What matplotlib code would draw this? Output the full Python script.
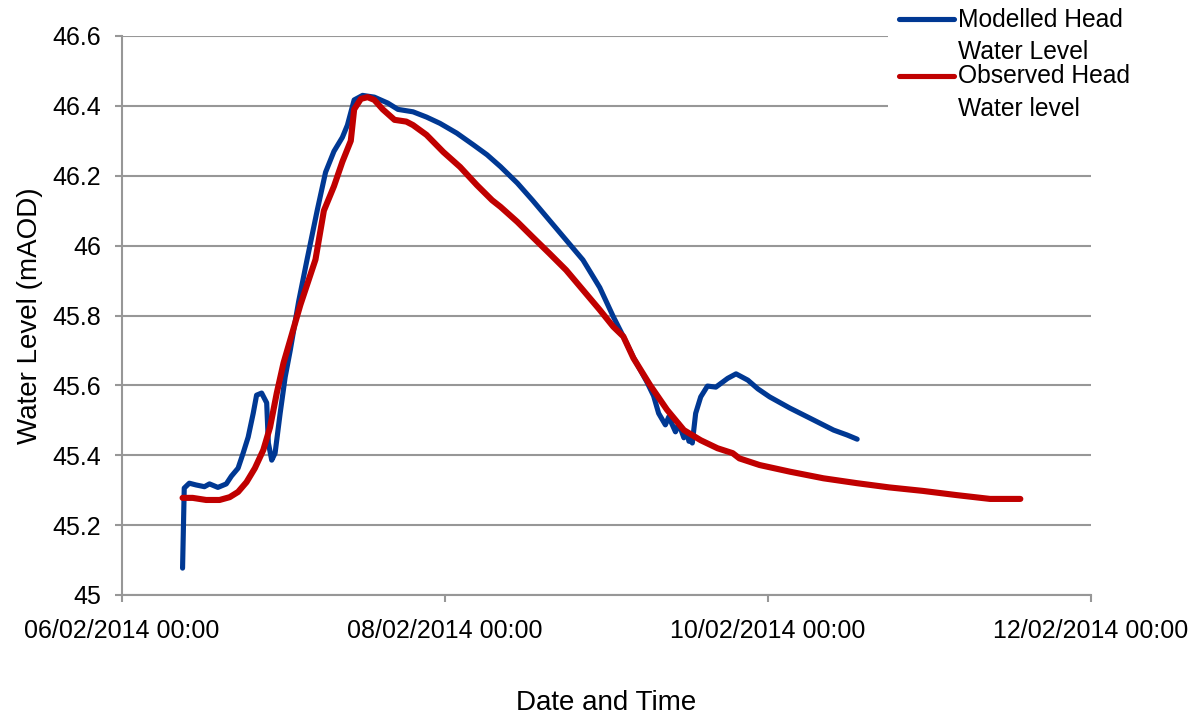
import matplotlib
matplotlib.use("Agg")
import matplotlib.pyplot as plt
import matplotlib.dates as mdates
from matplotlib.lines import Line2D
from matplotlib.patches import Rectangle
import pandas as pd

# Modelled head water level (mAOD)
modelled_times = [
    "2014-02-06 09:00", "2014-02-06 09:15", "2014-02-06 10:00", "2014-02-06 11:00",
    "2014-02-06 12:15", "2014-02-06 13:00", "2014-02-06 14:15", "2014-02-06 15:30",
    "2014-02-06 16:15", "2014-02-06 17:15", "2014-02-06 18:00", "2014-02-06 18:45",
    "2014-02-06 19:30", "2014-02-06 20:00", "2014-02-06 20:45", "2014-02-06 21:30",
    "2014-02-06 21:45", "2014-02-06 22:15", "2014-02-06 22:45", "2014-02-06 23:30",
    "2014-02-07 00:15", "2014-02-07 01:00", "2014-02-07 02:15", "2014-02-07 03:30",
    "2014-02-07 05:00", "2014-02-07 06:15", "2014-02-07 07:30", "2014-02-07 08:45",
    "2014-02-07 09:30", "2014-02-07 10:30", "2014-02-07 11:45", "2014-02-07 13:30",
    "2014-02-07 15:30", "2014-02-07 17:00", "2014-02-07 19:15", "2014-02-07 21:15",
    "2014-02-07 23:15", "2014-02-08 01:45", "2014-02-08 04:15", "2014-02-08 06:15",
    "2014-02-08 08:15", "2014-02-08 10:45", "2014-02-08 13:00", "2014-02-08 15:30",
    "2014-02-08 18:00", "2014-02-08 20:30", "2014-02-08 23:00", "2014-02-09 01:00",
    "2014-02-09 02:30", "2014-02-09 04:00", "2014-02-09 06:00", "2014-02-09 07:00",
    "2014-02-09 07:45", "2014-02-09 08:45", "2014-02-09 09:15", "2014-02-09 10:15",
    "2014-02-09 10:45", "2014-02-09 11:30", "2014-02-09 12:00", "2014-02-09 12:15",
    "2014-02-09 12:30", "2014-02-09 12:45", "2014-02-09 13:15", "2014-02-09 14:00",
    "2014-02-09 15:00", "2014-02-09 16:15", "2014-02-09 18:00", "2014-02-09 19:15",
    "2014-02-09 21:00", "2014-02-09 22:30", "2014-02-10 00:15", "2014-02-10 03:15",
    "2014-02-10 06:15", "2014-02-10 09:45", "2014-02-10 11:45", "2014-02-10 13:15",
]
modelled_level = [
    45.077, 45.306, 45.320, 45.315,
    45.310, 45.318, 45.308, 45.318,
    45.340, 45.363, 45.406, 45.452,
    45.520, 45.572, 45.578, 45.550,
    45.435, 45.386, 45.406, 45.520,
    45.624, 45.700, 45.840, 45.960,
    46.100, 46.210, 46.270, 46.310,
    46.345, 46.417, 46.430, 46.425,
    46.408, 46.390, 46.383, 46.368,
    46.350, 46.322, 46.288, 46.260,
    46.226, 46.179, 46.130, 46.073,
    46.016, 45.959, 45.880, 45.797,
    45.740, 45.680, 45.610, 45.570,
    45.520, 45.487, 45.510, 45.467,
    45.490, 45.450, 45.465, 45.440,
    45.450, 45.435, 45.520, 45.567,
    45.598, 45.595, 45.620, 45.633,
    45.615, 45.590, 45.567, 45.535,
    45.506, 45.472, 45.458, 45.446,
]

# Observed head water level (mAOD)
observed_times = [
    "2014-02-06 09:00", "2014-02-06 10:30", "2014-02-06 12:30", "2014-02-06 14:30",
    "2014-02-06 16:00", "2014-02-06 17:15", "2014-02-06 18:30", "2014-02-06 19:45",
    "2014-02-06 21:00", "2014-02-06 22:00", "2014-02-06 23:00", "2014-02-07 00:00",
    "2014-02-07 01:00", "2014-02-07 02:30", "2014-02-07 04:45", "2014-02-07 06:00",
    "2014-02-07 07:30", "2014-02-07 08:45", "2014-02-07 10:00", "2014-02-07 10:30",
    "2014-02-07 11:30", "2014-02-07 12:30", "2014-02-07 13:30", "2014-02-07 14:45",
    "2014-02-07 16:30", "2014-02-07 18:15", "2014-02-07 19:15", "2014-02-07 21:15",
    "2014-02-07 23:45", "2014-02-08 02:15", "2014-02-08 04:45", "2014-02-08 07:00",
    "2014-02-08 08:15", "2014-02-08 10:45", "2014-02-08 13:00", "2014-02-08 15:30",
    "2014-02-08 18:00", "2014-02-08 20:30", "2014-02-08 23:00", "2014-02-09 01:00",
    "2014-02-09 02:30", "2014-02-09 04:00", "2014-02-09 06:30", "2014-02-09 09:00",
    "2014-02-09 11:30", "2014-02-09 14:00", "2014-02-09 16:30", "2014-02-09 18:45",
    "2014-02-09 19:45", "2014-02-09 22:45", "2014-02-10 03:15", "2014-02-10 08:15",
    "2014-02-10 13:15", "2014-02-10 18:00", "2014-02-10 23:00", "2014-02-11 04:00",
    "2014-02-11 09:00", "2014-02-11 13:30",
]
observed_level = [
    45.278, 45.278, 45.272, 45.272,
    45.280, 45.295, 45.323, 45.363,
    45.415, 45.480, 45.578, 45.664,
    45.730, 45.830, 45.960, 46.100,
    46.170, 46.240, 46.300, 46.390,
    46.420, 46.425, 46.417, 46.390,
    46.360, 46.355, 46.345, 46.317,
    46.268, 46.225, 46.173, 46.130,
    46.111, 46.068, 46.025, 45.978,
    45.930, 45.873, 45.816, 45.768,
    45.740, 45.678, 45.600, 45.530,
    45.472, 45.443, 45.420, 45.406,
    45.391, 45.372, 45.353, 45.334,
    45.320, 45.308, 45.298, 45.286,
    45.275, 45.275,
]

x_ticks = ["2014-02-06", "2014-02-08", "2014-02-10", "2014-02-12"]
y_ticks = [45.0, 45.2, 45.4, 45.6, 45.8, 46.0, 46.2, 46.4, 46.6]
y_tick_labels = ["45", "45.2", "45.4", "45.6", "45.8", "46", "46.2", "46.4", "46.6"]

series_labels = [["Modelled Head", "Water Level"], ["Observed Head", "Water level"]]
series_colors = ["#003893", "#C00000"]

plt.rcParams["font.family"] = ["Liberation Sans", "DejaVu Sans"]

W, H = 1202, 717
fig = plt.figure(figsize=(W / 100, H / 100), dpi=100)
ax = fig.add_axes([122 / W, 122 / H, 969 / W, 559 / H])

grid_gray = "#979797"

ax.plot(pd.to_datetime(modelled_times), modelled_level, color=series_colors[0],
        lw=3.7, solid_capstyle="round", solid_joinstyle="round", zorder=3)
ax.plot(pd.to_datetime(observed_times), observed_level, color=series_colors[1],
        lw=4.4, solid_capstyle="round", solid_joinstyle="round", zorder=4)

ax.set_xlim(pd.Timestamp("2014-02-06"), pd.Timestamp("2014-02-12"))
ax.set_ylim(45.0, 46.6)
ax.set_xticks(pd.to_datetime(x_ticks))
ax.xaxis.set_major_formatter(mdates.DateFormatter("%d/%m/%Y %H:%M"))
ax.set_yticks(y_ticks)
ax.set_yticklabels(y_tick_labels)

ax.grid(axis="y", color=grid_gray, lw=1.5)
ax.set_axisbelow(True)
for side in ("top", "right"):
    ax.spines[side].set_visible(False)
for side in ("left", "bottom"):
    ax.spines[side].set_color(grid_gray)
    ax.spines[side].set_linewidth(1.5)

ax.tick_params(axis="both", direction="out", length=5, width=1.5,
               color=grid_gray, labelsize=18, labelcolor="black")
ax.tick_params(axis="y", pad=10)
ax.tick_params(axis="x", pad=12.5)

ax.set_ylabel("Water Level (mAOD)", fontsize=20)
ax.set_xlabel("Date and Time", fontsize=20)
ax.yaxis.set_label_coords(-0.0815, 0.5)
ax.xaxis.set_label_coords(0.5, -0.17)

# Legend panel on the upper right
fig.add_artist(Rectangle((888 / W, 1 - 132 / H), (W - 888) / W, 132 / H,
                         transform=fig.transFigure, facecolor="white",
                         edgecolor="none", zorder=5))
handle_y = [19, 76]
baselines = [(27, 59), (83, 116)]
for lines, color, hy, bl in zip(series_labels, series_colors, handle_y, baselines):
    fig.add_artist(Line2D([899 / W, 954 / W], [1 - hy / H, 1 - hy / H],
                          transform=fig.transFigure, color=color, lw=3.7,
                          solid_capstyle="round", zorder=6))
    for text, yb in zip(lines, bl):
        fig.text(958 / W, 1 - yb / H, text, fontsize=17.7, va="baseline",
                 ha="left", zorder=6)

fig.savefig("out.png", dpi=100)
